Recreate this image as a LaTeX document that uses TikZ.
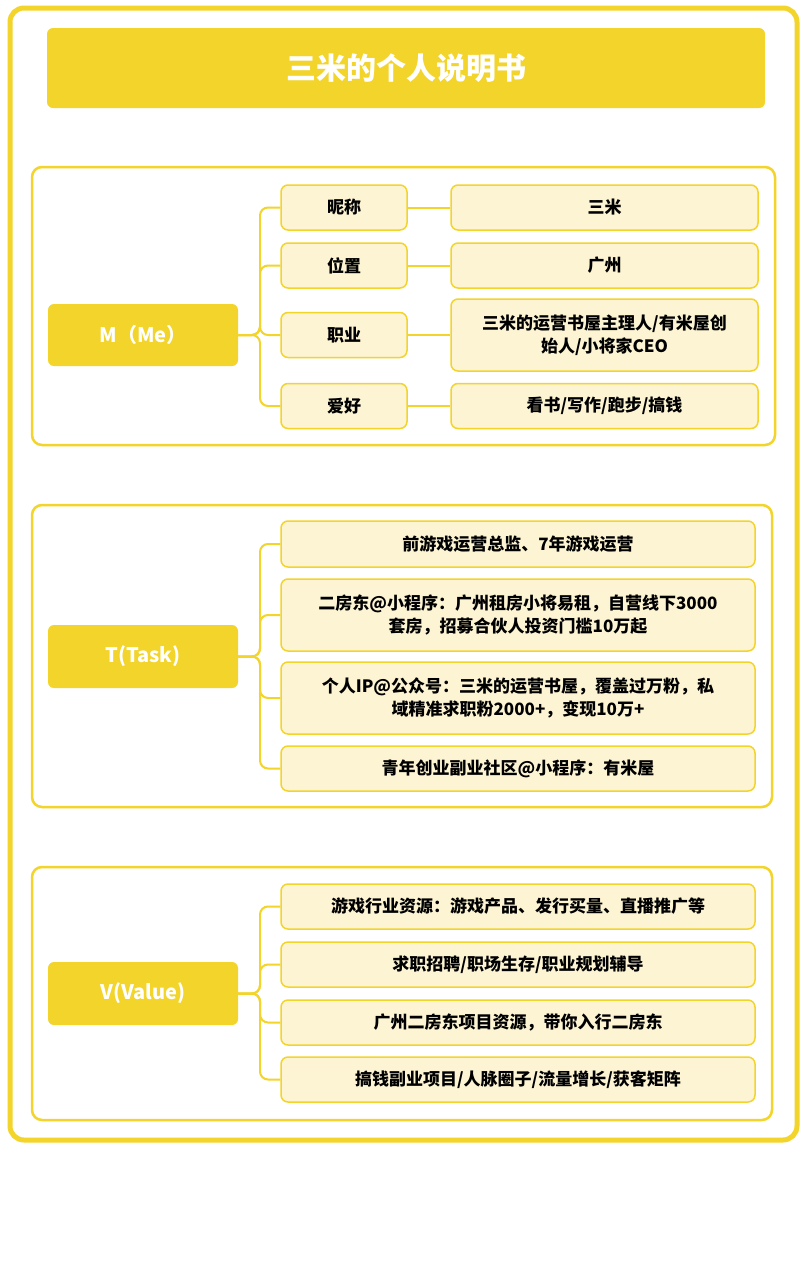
\documentclass[tikz,border=0pt]{standalone}
\usepackage{fontspec}
\setmainfont{Noto Sans CJK SC}
\begin{document}
\begin{tikzpicture}[x=1pt,y=-1pt,
  every node/.style={font=\bfseries\fontsize{17}{23}\selectfont},
  main/.style={fill=ylw,rounded corners=6pt,text=white,font=\bfseries\fontsize{20}{24}\selectfont},
  lbl/.style={fill=lyl,draw=ylw,line width=1.5pt,rounded corners=7pt},
  sec/.style={draw=ylw,line width=2.5pt,rounded corners=10pt},
  conn/.style={draw=ylw,line width=2pt,rounded corners=8pt}]
\definecolor{ylw}{HTML}{F2D42A}
\definecolor{lyl}{HTML}{FCF4D2}
\useasboundingbox (0,0) rectangle (807,1280);
\fill[white] (0,0) rectangle (807,1280);
\draw[ylw,line width=5pt,rounded corners=14pt] (10,8) rectangle (797,1140);
\node[main,minimum width=718pt,minimum height=80pt,font=\bfseries\fontsize{30}{36}\selectfont] (title) at (406,68) {三米的个人说明书};
% section 1
\draw[sec] (32,167) rectangle (775,445);
\node[main,minimum width=190pt,minimum height=62pt] (m) at (143,335) {M（Me）};
\node[lbl,minimum width=126pt,minimum height=45pt] (a1) at (344,207.5) {昵称};
\node[lbl,minimum width=126pt,minimum height=45pt] (a2) at (344,265.5) {位置};
\node[lbl,minimum width=126pt,minimum height=45pt] (a3) at (344,335) {职业};
\node[lbl,minimum width=126pt,minimum height=45pt] (a4) at (344,406) {爱好};
\node[lbl,minimum width=307pt,minimum height=45pt] (b1) at (604.5,207.5) {三米};
\node[lbl,minimum width=307pt,minimum height=45pt] (b2) at (604.5,265.5) {广州};
\node[lbl,minimum width=307pt,minimum height=72pt,align=center] (b3) at (604.5,335) {三米的运营书屋主理人/有米屋创\\始人/小将家CEO};
\node[lbl,minimum width=307pt,minimum height=45pt] (b4) at (604.5,406) {看书/写作/跑步/搞钱};
\foreach \i in {1,2,3,4} {\draw[conn] (m.east) -- (260,335) |- (a\i.west); \draw[ylw,line width=2pt] (a\i.east) -- (b\i.west);}
% section 2
\draw[sec] (32,505) rectangle (772,807);
\node[main,minimum width=190pt,minimum height=63pt] (t) at (143,656.5) {T(Task)};
\node[lbl,minimum width=474pt,minimum height=46pt] (t1) at (518,544) {前游戏运营总监、7年游戏运营};
\node[lbl,minimum width=474pt,minimum height=72pt,align=center] (t2) at (518,615) {二房东@小程序：广州租房小将易租，自营线下3000\\套房，招募合伙人投资门槛10万起};
\node[lbl,minimum width=474pt,minimum height=72pt,align=center] (t3) at (518,698) {个人IP@公众号：三米的运营书屋，覆盖过万粉，私\\域精准求职粉2000+，变现10万+};
\node[lbl,minimum width=474pt,minimum height=45pt] (t4) at (518,768.5) {青年创业副业社区@小程序：有米屋};
\foreach \i in {1,2,3,4} {\draw[conn] (t.east) -- (260,656.5) |- (t\i.west);}
% section 3
\draw[sec] (32,867) rectangle (772,1120);
\node[main,minimum width=190pt,minimum height=63pt] (v) at (143,993.5) {V(Value)};
\node[lbl,minimum width=474pt,minimum height=45pt] (v1) at (518,906.5) {游戏行业资源：游戏产品、发行买量、直播推广等};
\node[lbl,minimum width=474pt,minimum height=45pt] (v2) at (518,964.5) {求职招聘/职场生存/职业规划辅导};
\node[lbl,minimum width=474pt,minimum height=45pt] (v3) at (518,1022.5) {广州二房东项目资源，带你入行二房东};
\node[lbl,minimum width=474pt,minimum height=45pt] (v4) at (518,1079.5) {搞钱副业项目/人脉圈子/流量增长/获客矩阵};
\foreach \i in {1,2,3,4} {\draw[conn] (v.east) -- (260,993.5) |- (v\i.west);}
\end{tikzpicture}
\end{document}
